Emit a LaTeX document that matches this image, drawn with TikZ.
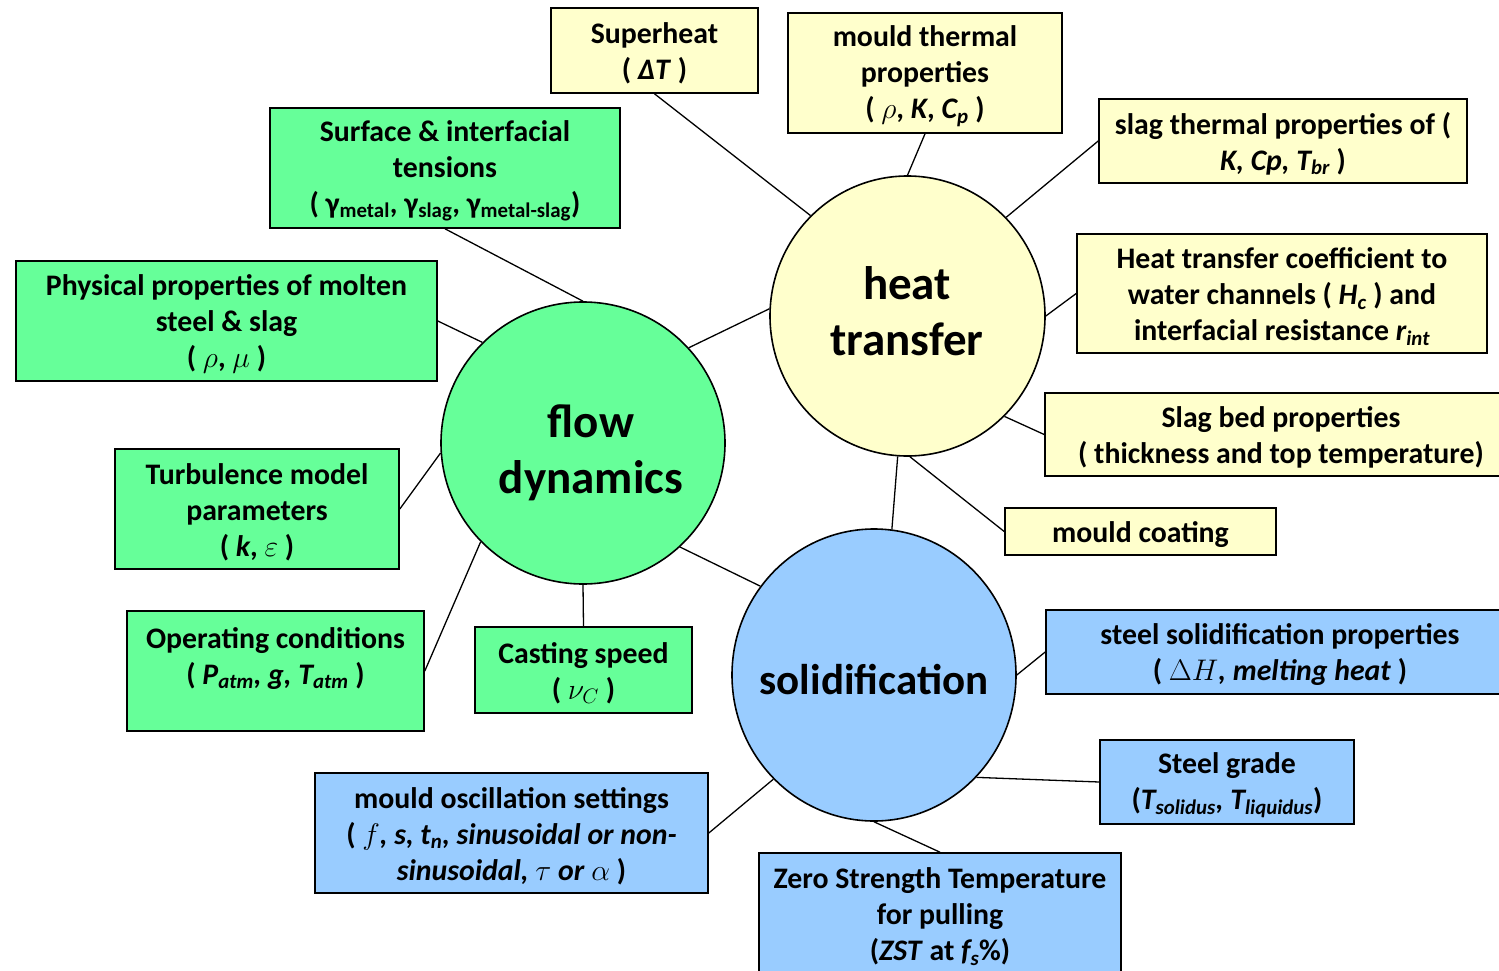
\RequirePackage{fix-cm}
\documentclass[tikz,border=0pt]{standalone}
\usepackage{fontspec}
\setmainfont{Carlito}
\usetikzlibrary{shapes.geometric}

\definecolor{flowgreen}{RGB}{102,255,153}
\definecolor{heatyellow}{RGB}{255,255,204}
\definecolor{solidblue}{RGB}{153,204,255}

% tall invisible rule that sets the height of a box's first line
\newcommand{\tp}{\rule{0pt}{27pt}}

\tikzset{
  box/.style={draw=black, line width=1.6pt, align=center, inner sep=0pt,
              font=\fontsize{29.8}{36}\selectfont\bfseries},
  hub/.style={ellipse, draw=black, line width=1.6pt, inner sep=0pt},
  hubtext/.style={align=center, inner sep=0pt,
              font=\fontsize{47}{56}\selectfont\bfseries},
  link/.style={draw=black, line width=1.3pt},
}

\begin{document}
\begin{tikzpicture}[x=1pt, y=-1pt]
\useasboundingbox (0,0) rectangle (1499,971);
\fill[white] (0,0) rectangle (1499,971);

% ---- the three central topics ----
\node[hub, fill=flowgreen, minimum width=284pt, minimum height=282pt] (flow) at (583,443) {};
\node[hub, fill=heatyellow, minimum width=275pt, minimum height=280pt] (heat) at (907.5,316) {};
\node[hub, fill=solidblue, minimum width=284pt, minimum height=292pt] (solid) at (874,675) {};
\node[hubtext] (flowtext) at (591,453) {flow\\dynamics};
\node[hubtext] (heattext) at (907,311) {heat\\transfer};
\node[hubtext, font=\fontsize{43}{52}\selectfont\bfseries] (solidtext) at (874,680) {solidification};

% ---- heat transfer parameters ----
\node[box, fill=heatyellow, minimum width=207pt, minimum height=85pt] (sup) at (654.5,50.5)
  {\tp Superheat\\( \textit{ΔT} )};
\node[box, fill=heatyellow, minimum width=274pt, minimum height=120pt] (mtp) at (925,73)
  {\tp mould thermal\\properties\\( $\rho$, \textit{K}, \textit{C\textsubscript{p}} )};
\node[box, fill=heatyellow, minimum width=368pt, minimum height=84pt] (stp) at (1283,141)
  {\tp slag thermal properties of (\\\textit{K, Cp, T\textsubscript{br}} )};
\node[box, fill=heatyellow, minimum width=410pt, minimum height=119pt] (htc) at (1282,293.5)
  {\tp Heat transfer coefficient to\\water channels ( \textit{H\textsubscript{c}} ) and\\interfacial resistance \textit{r\textsubscript{int}}};
\node[box, fill=heatyellow, minimum width=472pt, minimum height=83pt] (sbp) at (1281,434.5)
  {\tp Slag bed properties\\( thickness and top temperature)};
\node[box, fill=heatyellow, minimum width=271pt, minimum height=47pt] (mc) at (1140.5,531.5)
  {\tp mould coating};

% ---- solidification parameters ----
\node[box, fill=solidblue, minimum width=468pt, minimum height=84pt] (ssp) at (1280,652)
  {\tp steel solidification properties\\( $\Delta H$\textit{, melting heat} )};
\node[box, fill=solidblue, minimum width=254pt, minimum height=84pt] (sg) at (1227,782)
  {\tp Steel grade\\(\textit{T\textsubscript{solidus}, T\textsubscript{liquidus}})};
\node[box, fill=solidblue, minimum width=362pt, minimum height=121pt] (zst) at (940,913.5)
  {\tp Zero Strength Temperature\\for pulling\\(\textit{ZST} at \textit{f\textsubscript{s}}\%)};
\node[box, fill=solidblue, minimum width=393pt, minimum height=120pt] (mos) at (511.5,833)
  {\tp mould oscillation settings\\( $f$\textit{, s, t\textsubscript{n}, sinusoidal or non-}\\\textit{sinusoidal,} $\tau$ \textit{or} $\alpha$ )};

% ---- flow dynamics parameters ----
\node[box, fill=flowgreen, minimum width=217pt, minimum height=86pt] (cs) at (583.5,670)
  {\tp Casting speed\\( $\nu_C$ )};
\node[box, fill=flowgreen, minimum width=297pt, minimum height=120pt] (oc) at (275.5,671)
  {\tp Operating conditions\\( \textit{P\textsubscript{atm}, g, T\textsubscript{atm}} )\\\mbox{}};
\node[box, fill=flowgreen, minimum width=284pt, minimum height=120pt] (tm) at (257,509)
  {\tp Turbulence model\\parameters\\( \textit{k}, $\varepsilon$ )};
\node[box, fill=flowgreen, minimum width=421pt, minimum height=120pt] (pp) at (226.5,321)
  {\tp Physical properties of molten\\steel \& slag\\( $\rho$, $\mu$ )};
\node[box, fill=flowgreen, minimum width=350pt, minimum height=120pt] (sit) at (445,168)
  {\tp Surface \& interfacial\\tensions\\( γ\textsubscript{metal}, γ\textsubscript{slag}, γ\textsubscript{metal-slag})};

% ---- connectors ----
\draw[link] (sup.south) -- (heat.134.6);
\draw[link] (mtp.south) -- (heat.90);
\draw[link] (stp.west) -- (heat.45.4);
\draw[link] (htc.west) -- (heat.0);
\draw[link] (sbp.west) -- (heat.-46);
\draw[link] (mc.west) -- (heat.-89.4);
\draw[link] (heat.-94) -- (solid.83);
\draw[link] (heat.177) -- (flow.42.7);

\draw[link] (sit.south) -- (flow.90);
\draw[link] (pp.east) -- (flow.135);
\draw[link] (tm.east) -- (flow.184);
\draw[link] (oc.east) -- (flow.224.4);
\draw[link] (cs.north) -- (flow.-90);
\draw[link] (flow.-47.6) -- (solid.142.9);

\draw[link] (ssp.west) -- (solid.0);
\draw[link] (sg.west) -- (solid.-45.3);
\draw[link] (zst.north) -- (solid.-90);
\draw[link] (mos.east) -- (solid.-134);
\end{tikzpicture}
\end{document}
